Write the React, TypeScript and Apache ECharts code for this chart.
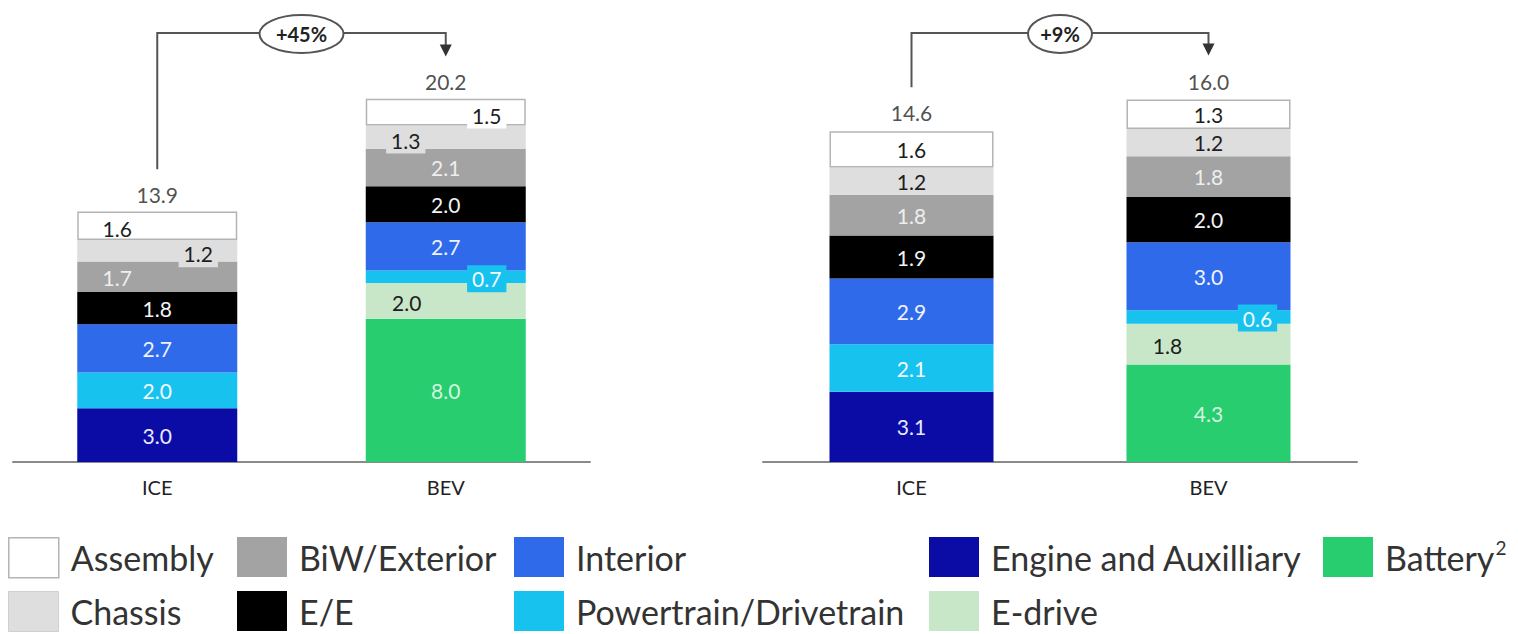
import React, { useEffect, useRef } from 'react';
import * as echarts from 'echarts';

// ---------- data ----------
const categories = ['ICE', 'BEV'];

// left panel
const leftEngine = [3.0, null];
const leftBattery = [null, 8.0];
const leftEdrive = [null, 2.0];
const leftPowertrain = [2.0, 0.7];
const leftInterior = [2.7, 2.7];
const leftEE = [1.8, 2.0];
const leftBiW = [1.7, 2.1];
const leftChassis = [1.2, 1.3];
const leftAssembly = [1.6, 1.5];
const leftTotals = [13.9, 20.2];
const leftChange = '+45%';

// right panel
const rightEngine = [3.1, null];
const rightBattery = [null, 4.3];
const rightEdrive = [null, 1.8];
const rightPowertrain = [2.1, 0.6];
const rightInterior = [2.9, 3.0];
const rightEE = [1.9, 2.0];
const rightBiW = [1.8, 1.8];
const rightChassis = [1.2, 1.2];
const rightAssembly = [1.6, 1.3];
const rightTotals = [14.6, 16.0];
const rightChange = '+9%';

// stack order bottom -> top
const seriesNames = [
  'Engine and Auxilliary',
  'Battery',
  'E-drive',
  'Powertrain/Drivetrain',
  'Interior',
  'E/E',
  'BiW/Exterior',
  'Chassis',
  'Assembly',
];

const panels = [
  {
    values: [leftEngine, leftBattery, leftEdrive, leftPowertrain, leftInterior, leftEE, leftBiW, leftChassis, leftAssembly],
    totals: leftTotals,
    change: leftChange,
  },
  {
    values: [rightEngine, rightBattery, rightEdrive, rightPowertrain, rightInterior, rightEE, rightBiW, rightChassis, rightAssembly],
    totals: rightTotals,
    change: rightChange,
  },
];

// ---------- styles ----------
const FONT = 'Lato, "Open Sans", sans-serif';
const colors: Record<string, string> = {
  'Engine and Auxilliary': '#0b0ca6',
  Battery: '#27cd6e',
  'E-drive': '#c8e7c9',
  'Powertrain/Drivetrain': '#18c2ee',
  Interior: '#2f6aea',
  'E/E': '#000000',
  'BiW/Exterior': '#a3a3a3',
  Chassis: '#dedede',
  Assembly: '#ffffff',
};
const labelColors: Record<string, string> = {
  'Engine and Auxilliary': '#e6e8ff',
  Battery: '#d4f5de',
  'E-drive': '#1e1e1e',
  'Powertrain/Drivetrain': '#f4fbff',
  Interior: '#eef3ff',
  'E/E': '#f2f2f2',
  'BiW/Exterior': '#eeeeee',
  Chassis: '#1e1e1e',
  Assembly: '#1e1e1e',
};
// special label placement: [panel][series][categoryIndex]
const labelTweaks: Record<string, Record<number, { dx?: number; dy?: number; bg?: boolean }>>[] = [
  {
    'BiW/Exterior': { 0: { dx: -40, dy: 1 } },
    Chassis: { 0: { dx: 41, dy: 3, bg: true }, 1: { dx: -40, dy: 3, bg: true } },
    Assembly: { 0: { dx: -40, dy: 3 }, 1: { dx: 41, dy: 3, bg: true } },
    'E-drive': { 1: { dx: -39, dy: 2 } },
    'Powertrain/Drivetrain': { 1: { dx: 41, dy: 2, bg: true } },
  },
  {
    'E-drive': { 1: { dx: -41, dy: 1 } },
    'Powertrain/Drivetrain': { 1: { dx: 49, dy: 1, bg: true } },
  },
];
const gridLayout = [
  { left: 13, width: 577, top: 14.5, height: 447.5, max: 25, barWidth: 160 },
  { left: 763, width: 594, top: 9, height: 453, max: 20, barWidth: 164 },
];
const ellipseRx = [42, 32];

const legendItems = [
  { name: 'Assembly', left: 8, top: 537 },
  { name: 'Chassis', left: 8, top: 591 },
  { name: 'BiW/Exterior', left: 237, top: 537 },
  { name: 'E/E', left: 237, top: 591 },
  { name: 'Interior', left: 514, top: 537 },
  { name: 'Powertrain/Drivetrain', left: 514, top: 591 },
  { name: 'Engine and Auxilliary', left: 929, top: 537 },
  { name: 'E-drive', left: 929, top: 591 },
  { name: 'Battery', left: 1323, top: 537 },
];

export default function App() {
  const ref = useRef<HTMLDivElement>(null);

  useEffect(() => {
    if (!ref.current) return;
    const chart = echarts.init(ref.current, undefined, { renderer: 'svg' });

    const series: any[] = [];
    panels.forEach((panel, g) => {
      seriesNames.forEach((name, si) => {
        const vals = panel.values[si];
        series.push({
          name,
          type: 'bar',
          stack: 'p' + g,
          xAxisIndex: g,
          yAxisIndex: g,
          barWidth: gridLayout[g].barWidth,
          itemStyle:
            name === 'Assembly'
              ? { color: colors[name], borderColor: '#b4b4b4', borderWidth: 1.5 }
              : { color: colors[name] },
          label: {
            show: true,
            position: 'inside',
            fontFamily: FONT,
            fontSize: 21,
            color: labelColors[name],
            formatter: (p: any) => (p.value == null ? '' : Number(p.value).toFixed(1)),
          },
          data: vals.map((v, ci) => {
            const t = labelTweaks[g][name] && labelTweaks[g][name][ci];
            if (v == null) return null;
            if (!t) return v;
            return {
              value: v,
              label: {
                offset: [t.dx || 0, t.dy || 0],
                ...(t.bg ? { backgroundColor: colors[name], padding: [3, 5] } : {}),
              },
            };
          }),
        });
      });
      series.push({
        name: 'Total' + g,
        type: 'scatter',
        xAxisIndex: g,
        yAxisIndex: g,
        symbolSize: 0,
        silent: true,
        z: 10,
        label: {
          show: true,
          position: 'top',
          distance: 8,
          fontFamily: FONT,
          fontSize: 21,
          color: '#222222',
          formatter: (p: any) => Number(p.value).toFixed(1),
        },
        data: panel.totals,
      });
    });

    const option: any = {
      animation: false,
      backgroundColor: '#ffffff',
      grid: gridLayout.map((l) => ({ left: l.left, width: l.width, top: l.top, height: l.height })),
      xAxis: gridLayout.map((_, g) => ({
        type: 'category',
        gridIndex: g,
        data: categories,
        axisTick: { show: false },
        axisLine: { lineStyle: { color: '#8a8a8a', width: 2 } },
        axisLabel: { fontFamily: FONT, fontSize: 20, color: '#222222', margin: 15 },
      })),
      yAxis: gridLayout.map((l, g) => ({
        type: 'value',
        gridIndex: g,
        min: 0,
        max: l.max,
        show: false,
        splitLine: { show: false },
      })),
      legend: legendItems.map((it) => ({
        orient: 'horizontal',
        left: it.left,
        top: it.top,
        padding: 0,
        itemWidth: 50,
        itemHeight: 40,
        icon: 'rect',
        selectedMode: false,
        data: [
          it.name === 'Assembly'
            ? { name: it.name, itemStyle: { borderColor: '#b4b4b4', borderWidth: 1.5 } }
            : it.name === 'Chassis'
            ? { name: it.name, itemStyle: { borderColor: '#cfcfcf', borderWidth: 1 } }
            : { name: it.name },
        ],
        formatter: (n: string) => (n === 'Battery' ? 'Battery{sup|2}' : n),
        textStyle: {
          fontFamily: FONT,
          fontSize: 34,
          lineHeight: 38,
          color: '#333333',
          padding: [0, 0, 0, 7],
          rich: {
            sup: { fontFamily: FONT, fontSize: 19, color: '#333333', verticalAlign: 'top', padding: [0, 0, 14, 1] },
          },
        },
      })),
      series,
    };
    chart.setOption(option);

    // annotation arrows computed from axis positions
    const graphics: any[] = [];
    const lineTop = 33;
    panels.forEach((panel, g) => {
      const a = chart.convertToPixel({ xAxisIndex: g, yAxisIndex: g }, [categories[0], panel.totals[0]]) as number[];
      const b = chart.convertToPixel({ xAxisIndex: g, yAxisIndex: g }, [categories[1], panel.totals[1]]) as number[];
      const startY = a[1] - 44;
      const tipY = b[1] - 44;
      const stroke = { stroke: '#555555', lineWidth: 2, fill: 'none' };
      graphics.push({
        type: 'polyline',
        shape: { points: [[a[0], startY], [a[0], lineTop], [b[0], lineTop], [b[0], tipY - 10]] },
        style: stroke,
        z: 100,
      });
      graphics.push({
        type: 'polygon',
        shape: { points: [[b[0] - 6, tipY - 12], [b[0] + 6, tipY - 12], [b[0], tipY]] },
        style: { fill: '#333333' },
        z: 100,
      });
      const cx = (a[0] + b[0]) / 2;
      graphics.push({
        type: 'ellipse',
        shape: { cx, cy: lineTop + 1, rx: ellipseRx[g], ry: 19 },
        style: { fill: '#ffffff', stroke: '#555555', lineWidth: 2 },
        z: 101,
      });
      graphics.push({
        type: 'text',
        x: cx,
        y: lineTop + 1,
        style: {
          text: panel.change,
          fontFamily: FONT,
          fontSize: 20,
          fontWeight: 'bold',
          fill: '#222222',
          align: 'center',
          verticalAlign: 'middle',
        },
        z: 102,
      });
    });
    chart.setOption({ graphic: graphics });

    return () => chart.dispose();
  }, []);

  return (
    <div
      ref={ref}
      style={{ position: 'absolute', left: 0, top: 0, width: 1518, height: 634, background: '#fff' }}
    />
  );
}
